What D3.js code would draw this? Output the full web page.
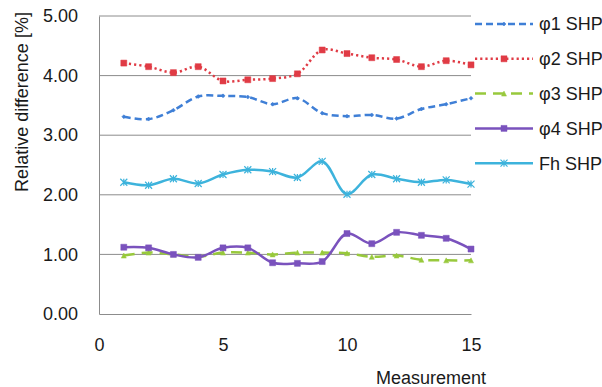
<!DOCTYPE html>
<html>
<head>
<meta charset="utf-8">
<script src="https://cdn.jsdelivr.net/npm/d3@7"></script>
<style>
  body { margin: 0; background: #fff; }
  text { font-family: "Liberation Sans", Arial, sans-serif; fill: #1a1a1a; }
</style>
</head>
<body>
<div id="chart"></div>
<script>
"use strict";

// measurement numbers (x) and relative difference [%] per series
var measurements = [1, 2, 3, 4, 5, 6, 7, 8, 9, 10, 11, 12, 13, 14, 15];
var phi1 = [3.31, 3.27, 3.42, 3.65, 3.66, 3.64, 3.52, 3.62, 3.37, 3.32, 3.34, 3.28, 3.44, 3.52, 3.62];
var phi2 = [4.21, 4.15, 4.05, 4.15, 3.91, 3.93, 3.95, 4.03, 4.43, 4.37, 4.30, 4.27, 4.15, 4.25, 4.18];
var phi3 = [0.98, 1.03, 1.00, 0.96, 1.03, 1.03, 1.00, 1.03, 1.03, 1.02, 0.96, 0.98, 0.91, 0.90, 0.90];
var phi4 = [1.12, 1.11, 1.00, 0.95, 1.11, 1.11, 0.86, 0.85, 0.88, 1.35, 1.18, 1.37, 1.32, 1.27, 1.09];
var fh = [2.21, 2.16, 2.27, 2.19, 2.34, 2.42, 2.39, 2.29, 2.56, 2.01, 2.34, 2.27, 2.21, 2.25, 2.18];
var seriesNames = ["\u03c61 SHP", "\u03c62 SHP", "\u03c63 SHP", "\u03c64 SHP", "Fh SHP"];
var yTicks = [0, 1, 2, 3, 4, 5];
var xTicks = [0, 5, 10, 15];

var width = 602, height = 387;
var svg = d3.select("#chart").append("svg")
    .attr("width", width)
    .attr("height", height);

var x = d3.scaleLinear().domain([0, 15]).range([99, 471]);
var y = d3.scaleLinear().domain([0, 5]).range([314, 16]);

var styles = [
    { color: "#3f7fd6", dash: "7,4", marker: "diamond", size: 4 },
    { color: "#e03b45", dash: "2.2,3", marker: "square", size: 6 },
    { color: "#98c93c", dash: "11,7", marker: "triangle", size: 5 },
    { color: "#7a52bd", dash: null, marker: "square", size: 6 },
    { color: "#3db3dc", dash: null, marker: "star", size: 7 }
];
var allSeries = [phi1, phi2, phi3, phi4, fh].map(function (vals, i) {
    return { name: seriesNames[i], values: vals, style: styles[i] };
});

// gridlines
svg.append("g").selectAll("line")
    .data(yTicks.filter(function (d) { return d > 0; }))
    .enter().append("line")
    .attr("x1", x(0)).attr("x2", x(15))
    .attr("y1", function (d) { return y(d); })
    .attr("y2", function (d) { return y(d); })
    .attr("stroke", "#8c8c8c")
    .attr("stroke-width", 1);

// axes
var yAxis = d3.axisLeft(y).tickValues(yTicks).tickSize(0).tickPadding(21)
    .tickFormat(d3.format(".2f"));
var xAxis = d3.axisBottom(x).tickValues(xTicks).tickSize(0).tickPadding(24);

var gy = svg.append("g").attr("transform", "translate(" + x(0) + ",0)").call(yAxis);
var gx = svg.append("g").attr("transform", "translate(0," + y(0) + ")").call(xAxis);
[gx, gy].forEach(function (g) {
    g.select(".domain").attr("stroke", "#8c8c8c").attr("stroke-width", 1);
    g.selectAll("text").attr("font-size", 18).attr("fill", "#1a1a1a")
        .attr("font-family", "Liberation Sans, Arial, sans-serif");
});

// axis titles
svg.append("text")
    .attr("transform", "translate(28,102) rotate(-90)")
    .attr("text-anchor", "middle")
    .attr("font-size", 18)
    .text("Relative difference [%]");

svg.append("text")
    .attr("x", 486).attr("y", 384)
    .attr("text-anchor", "end")
    .attr("font-size", 18)
    .text("Measurement");

function markerPath(type, s) {
    var h = s / 2;
    if (type === "square") return "M" + (-h) + "," + (-h) + "h" + s + "v" + s + "h" + (-s) + "Z";
    if (type === "diamond") return "M0," + (-h) + "L" + h + ",0L0," + h + "L" + (-h) + ",0Z";
    if (type === "triangle") return "M0," + (-h) + "L" + h + "," + h + "L" + (-h) + "," + h + "Z";
    // star: x with vertical bar
    return "M" + (-h) + "," + (-h) + "L" + h + "," + h + "M" + h + "," + (-h) + "L" + (-h) + "," + h + "M0," + (-h) + "L0," + h;
}

function drawMarker(g, st) {
    if (st.marker === "star") {
        g.append("path").attr("d", markerPath("star", st.size))
            .attr("stroke", st.color).attr("stroke-width", 1.2).attr("fill", "none");
    } else {
        g.append("path").attr("d", markerPath(st.marker, st.size))
            .attr("fill", st.color).attr("stroke", st.color).attr("stroke-width", 0.5);
    }
}

var line = d3.line()
    .x(function (d, i) { return x(measurements[i]); })
    .y(function (d) { return y(d); })
    .curve(d3.curveCatmullRom.alpha(0.5));

var series = svg.append("g").selectAll("g")
    .data(allSeries)
    .enter().append("g");

series.append("path")
    .attr("d", function (d) { return line(d.values); })
    .attr("fill", "none")
    .attr("stroke", function (d) { return d.style.color; })
    .attr("stroke-width", 2.5)
    .attr("stroke-dasharray", function (d) { return d.style.dash; });

series.each(function (d) {
    var g = d3.select(this);
    d.values.forEach(function (v, i) {
        var m = g.append("g")
            .attr("transform", "translate(" + x(measurements[i]) + "," + y(v) + ")");
        drawMarker(m, d.style);
    });
});

// legend
var legend = svg.append("g").selectAll("g")
    .data(allSeries)
    .enter().append("g")
    .attr("transform", function (d, i) { return "translate(475," + (24 + i * 34.8) + ")"; });

legend.append("line")
    .attr("x1", 0).attr("x2", 58)
    .attr("stroke", function (d) { return d.style.color; })
    .attr("stroke-width", 2.5)
    .attr("stroke-dasharray", function (d) { return d.style.dash; });

legend.each(function (d) {
    var m = d3.select(this).append("g").attr("transform", "translate(29,0)");
    drawMarker(m, d.style);
});

legend.append("text")
    .attr("x", 64)
    .attr("dy", "0.35em")
    .attr("font-size", 18)
    .text(function (d) { return d.name; });
</script>
</body>
</html>
